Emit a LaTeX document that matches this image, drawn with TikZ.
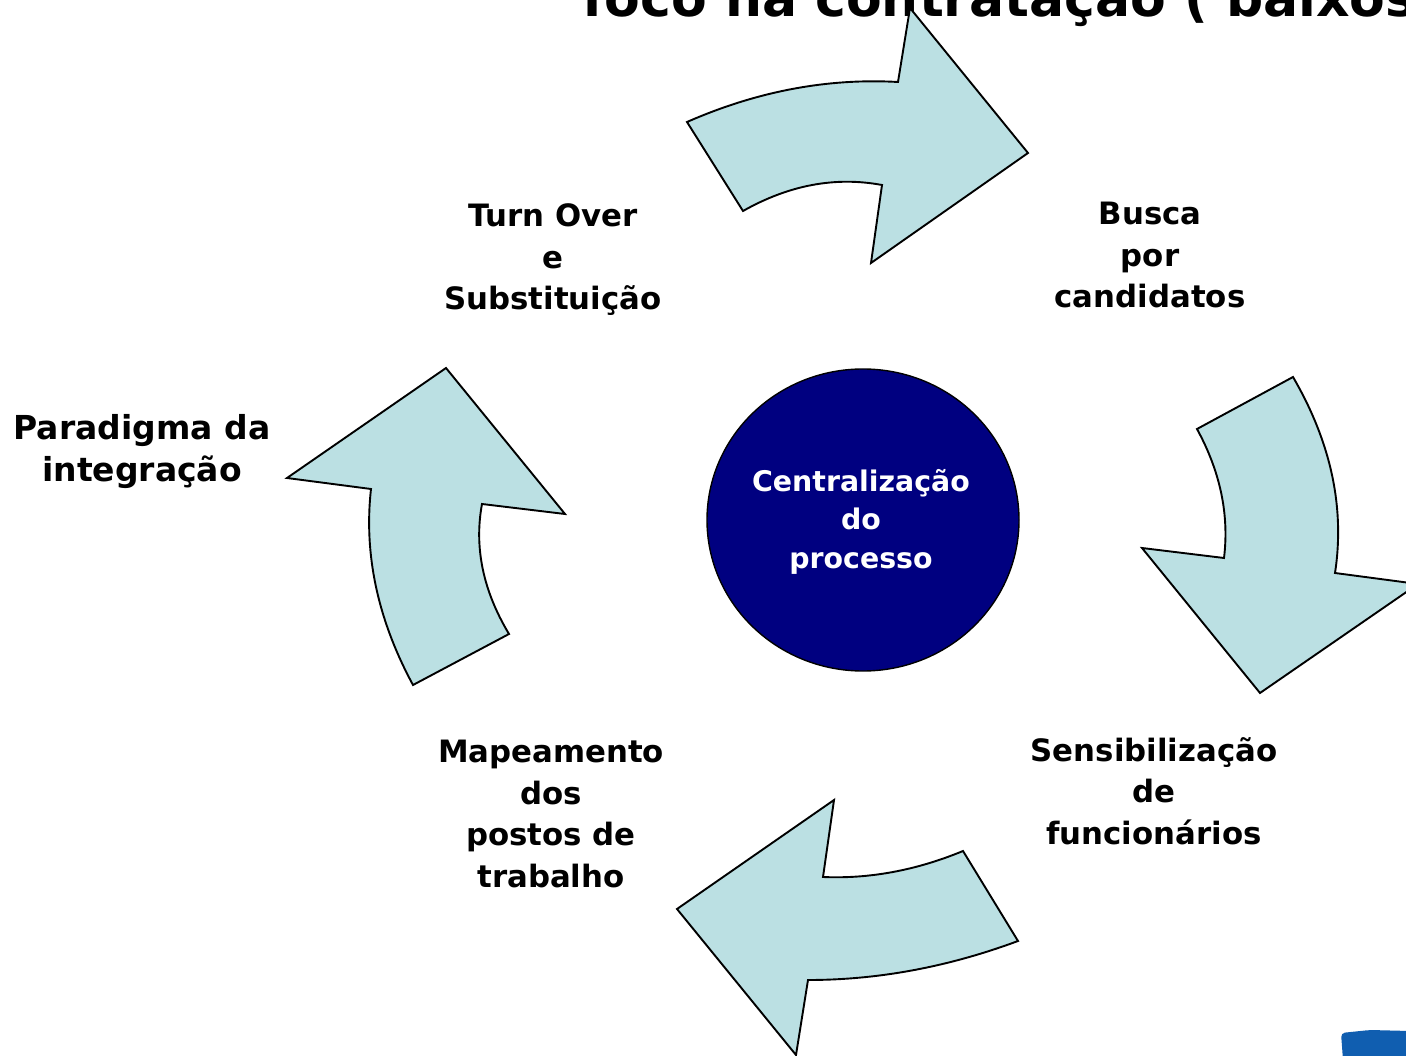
\documentclass[tikz,border=0pt]{standalone}
\usepackage{fontspec}
\setmainfont{DejaVu Sans}
\usetikzlibrary{shapes.geometric}
\definecolor{arrowfill}{RGB}{187,224,227}
\definecolor{navyc}{RGB}{0,0,128}
\definecolor{logoblue}{RGB}{16,94,176}
\begin{document}
\begin{tikzpicture}[x=1pt,y=-1pt,
  arrowshape/.style={fill=arrowfill,draw=black,line width=1.9pt,line join=miter},
  lbl/.style={font=\bfseries\fontsize{30.8}{41.5}\selectfont,align=center,anchor=base,inner sep=0pt},
  hubtxt/.style={font=\bfseries\fontsize{28.4}{38.5}\selectfont,align=center,anchor=base,inner sep=0pt,text=white},
]
\useasboundingbox (0,0) rectangle (1406,1056);
\clip (0,0) rectangle (1406,1056);
\fill[white] (0,0) rectangle (1406,1056);

% title (clipped at top)
\node[anchor=base west,inner sep=0pt,font=\bfseries\fontsize{52}{60}\selectfont] (title) at (582,17) {foco na contratação ( baixos};

% arrows
\draw[arrowshape] (687,122) .. controls (757,91.3) and (827.3,78) .. (898,82) -- (910,8) -- (1028,153) -- (871,263) -- (882,185) .. controls (835.3,176.3) and (789,185) .. (743,211) -- cycle;
\draw[arrowshape] (1293,377) .. controls (1331,442.3) and (1345,507.7) .. (1335,573) -- (1418,584) -- (1260,693) -- (1142,548) -- (1224,558) .. controls (1229.3,514.7) and (1220.3,471.7) .. (1197,429) -- cycle;
\draw[arrowshape] (1018,941) .. controls (948,967) and (878,980) .. (808,980) -- (796,1055) -- (677,909) -- (834,800) -- (823,877) .. controls (869.7,879) and (916.3,870.3) .. (963,851) -- cycle;
\draw[arrowshape] (413,685) .. controls (377.7,619.7) and (363.7,554.3) .. (371,489) -- (287,478) -- (446,368) -- (565,514) -- (482,504) .. controls (474,547.3) and (483,590.7) .. (509,634) -- cycle;

% hub
\node[ellipse,draw=black,line width=1.4pt,fill=navyc,minimum width=312pt,minimum height=302pt,inner sep=0pt] (hub) at (863,520) {};
\node[hubtxt] (hubtext) at (861,568) {Centralização\\do\\processo};

% labels (base anchor = baseline of last line)
\node[lbl] (turn) at (553,310) {Turn Over\\e\\Substituição};
\node[lbl] (busca) at (1150,308) {Busca\\por\\candidatos};
\node[lbl] (sens) at (1154,844) {Sensibilização\\de\\funcionários};
\node[lbl] (mapa) at (551,887) {Mapeamento\\dos\\postos de\\trabalho};
\node[lbl,font=\bfseries\fontsize{33}{43}\selectfont] (para) at (142,482) {Paradigma da\\integração};

% logo fragment
\fill[logoblue,rounded corners=4pt] (1341,1033) -- (1370,1030) -- (1410,1031) -- (1410,1060) -- (1343,1060) -- cycle;
\end{tikzpicture}
\end{document}
